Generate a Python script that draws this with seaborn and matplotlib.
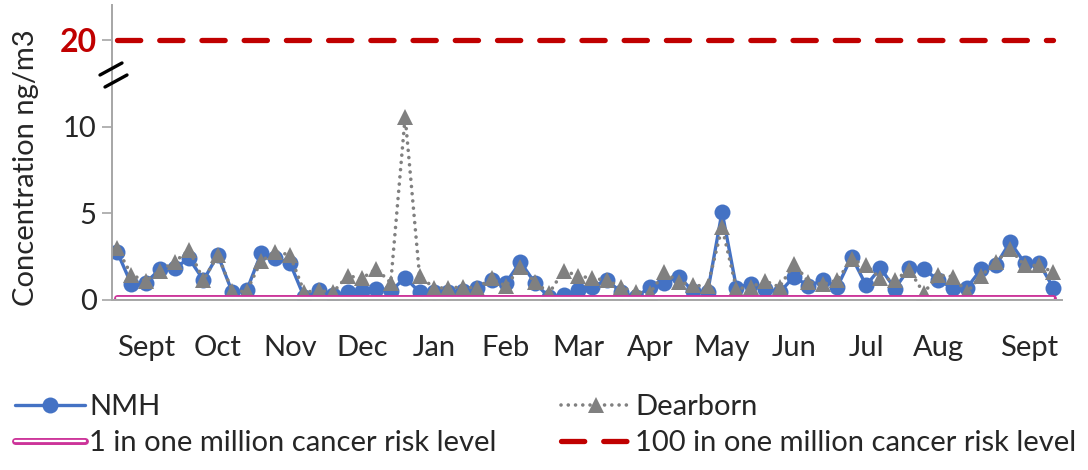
import numpy as np
import matplotlib
matplotlib.use('Agg')
import matplotlib.pyplot as plt
import matplotlib.patheffects as pe
from matplotlib.lines import Line2D
import seaborn as sns

# concentrations (ng/m3), one sample every ~6 days, Sept -> Sept
nmh = [2.8, 0.9, 1.0, 1.8, 1.85, 2.4, 1.15, 2.6, 0.45, 0.55, 2.7,
       2.4, 2.15, 0.15, 0.55, 0.3, 0.45, 0.5, 0.65, 0.5, 1.3, 0.45,
       0.45, 0.45, 0.5, 0.7, 1.15, 1.0, 2.2, 1.0, 0.15, 0.3, 0.55,
       0.75, 1.15, 0.45, 0.15, 0.75, 1.0, 1.35, 0.5, 0.45, 5.1, 0.7,
       0.95, 0.65, 0.45, 1.35, 0.8, 1.15, 0.75, 2.5, 0.85, 1.85, 0.65,
       1.85, 1.8, 1.15, 0.7, 0.7, 1.8, 2.0, 3.35, 2.15, 2.15, 0.7]
dearborn = [3.0, 1.45, 1.1, 1.7, 2.2, 2.9, 1.15, 2.6, 0.5, 0.5, 2.25,
            2.8, 2.6, 0.45, 0.55, 0.45, 1.4, 1.25, 1.8, 1.0, 10.6, 1.4,
            0.7, 0.7, 0.75, 0.7, 1.25, 0.8, 1.9, 1.05, 0.4, 1.7, 1.4,
            1.25, 1.15, 0.75, 0.45, 0.4, 1.6, 1.05, 0.85, 0.8, 4.2, 0.65,
            0.75, 1.1, 0.75, 2.1, 1.05, 0.9, 1.15, 2.35, 2.0, 1.25, 1.15,
            1.75, 0.4, 1.45, 1.35, 0.45, 1.4, 2.2, 2.95, 2.0, 2.0, 1.6]
month_labels = ['Sept', 'Oct', 'Nov', 'Dec', 'Jan', 'Feb', 'Mar', 'Apr',
                'May', 'Jun', 'Jul', 'Aug', 'Sept']
month_pos = [2, 7, 12, 17, 22, 27, 32, 37, 42, 47, 52, 57, 63.3]
risk_1 = 0.12          # 1 in one million level
risk_100_label = '20'  # 100 in one million level, drawn above the axis break
risk_100_pos = 15

sns.set_style('white')
plt.rcParams['font.family'] = ['Lato', 'DejaVu Sans']
fs = 21

fig = plt.figure(figsize=(10.88, 4.70), dpi=100)
ax = fig.add_axes([112 / 1088, 1 - 300 / 470, 950 / 1088, 295 / 470])

idx = np.arange(len(nmh))
ends = [0, len(nmh) - 1]

sns.lineplot(x=idx, y=nmh, ax=ax, color='#4472C4', linewidth=2.4,
             marker='o', markersize=11.5, markeredgewidth=0, label='NMH')
sns.lineplot(x=idx, y=dearborn, ax=ax, color='#808080', linewidth=2.6,
             marker='^', markersize=11.5, markeredgewidth=0, label='Dearborn')
ax.lines[-1].set_dashes((0.01, 2.0))
ax.lines[-1].set_dash_capstyle('round')

sns.lineplot(x=ends, y=[risk_1, risk_1], ax=ax, color='white', linewidth=1.6,
             label='1 in one million cancer risk level')
ax.lines[-1].set_path_effects([pe.Stroke(linewidth=5.0, foreground='#CC3399',
                                         capstyle='round'), pe.Normal()])

sns.lineplot(x=ends, y=[risk_100_pos, risk_100_pos], ax=ax, color='#C00000',
             linewidth=3.8, label='100 in one million cancer risk level')
ax.lines[-1].set_dashes((4.4, 3.6))
ax.lines[-1].set_dash_capstyle('round')

ax.set_xlim(-0.35, 65.6)
ax.set_ylim(0, 17.05)
ax.set_xticks(month_pos)
ax.set_xticklabels(month_labels, fontsize=fs)
ax.tick_params(axis='x', length=0, pad=25)
ax.set_yticks([0, 5, 10, risk_100_pos])
ax.set_yticklabels(['0', '5', '10', risk_100_label], fontsize=fs)
lab = ax.get_yticklabels()[-1]
lab.set_color('#C00000')
lab.set_fontweight('bold')
lab.set_fontsize(fs + 2)
ax.tick_params(axis='y', length=7, width=1.2, color='#A6A6A6', pad=4, left=True)
ax.set_ylabel('Concentration ng/m3', fontsize=fs)
ax.yaxis.set_label_coords(-0.077, 0.45)
ax.set_xlabel('')
for s in ['top', 'right']:
    ax.spines[s].set_visible(False)
for s in ['left', 'bottom']:
    ax.spines[s].set_color('#A6A6A6')
    ax.spines[s].set_linewidth(1.4)

# axis break marks
for (x0, y0, x1, y1) in [(100, 75, 122, 63), (105, 87, 127, 75)]:
    fig.add_artist(Line2D([x0 / 1088, x1 / 1088], [1 - y0 / 470, 1 - y1 / 470],
                          color='black', linewidth=2.4))

handles, labels = ax.get_legend_handles_labels()
ax.get_legend().remove()
order = [0, 2, 1, 3]
fig.legend([handles[i] for i in order], [labels[i] for i in order],
           loc='upper left', bbox_to_anchor=(15 / 1088, 1 - 394 / 470),
           ncol=2, frameon=False, fontsize=fs, handlelength=2.4,
           handletextpad=0.15, columnspacing=2.2, labelspacing=0.35,
           borderpad=0, borderaxespad=0)

fig.savefig('out.png', dpi=100)
